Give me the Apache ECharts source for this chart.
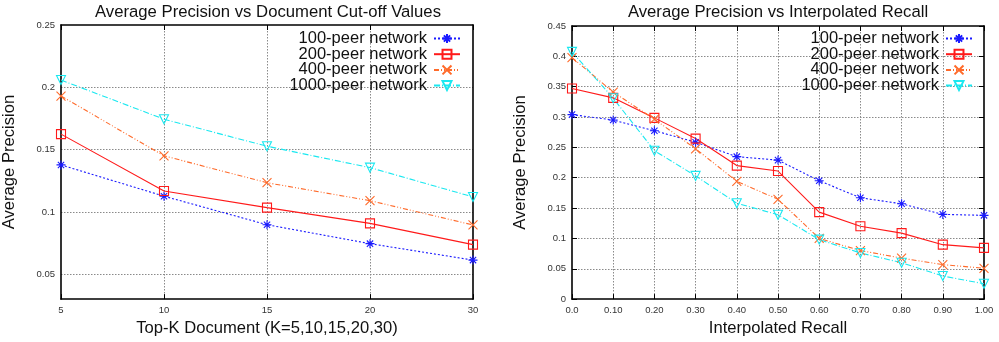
<!DOCTYPE html>
<html><head><meta charset="utf-8">
<script src="https://cdn.jsdelivr.net/npm/echarts@6/dist/echarts.min.js"></script>
<style>html,body{margin:0;padding:0;background:#fff}#c{width:999px;height:342px}</style>
</head><body><div id="c"></div>
<script>
const seriesNames = ['100-peer network','200-peer network','400-peer network','1000-peer network'];
const leftCategories = ['5','10','15','20','30'];
const left100 = [0.1377,0.1126,0.0897,0.0745,0.0613];
const left200 = [0.1624,0.1168,0.1034,0.0908,0.0737];
const left400 = [0.1930,0.1450,0.1234,0.1090,0.0895];
const left1000 = [0.2058,0.1744,0.1527,0.1355,0.1120];
const recall = [0,0.1,0.2,0.3,0.4,0.5,0.6,0.7,0.8,0.9,1.0];
const right100 = [0.304,0.295,0.2775,0.2585,0.2347,0.229,0.195,0.167,0.157,0.1396,0.138];
const right200 = [0.347,0.3316,0.2986,0.2645,0.220,0.211,0.1433,0.120,0.1087,0.0897,0.0844];
const right400 = [0.398,0.341,0.2964,0.2477,0.194,0.1645,0.100,0.080,0.0675,0.0568,0.0508];
const right1000 = [0.4074,0.331,0.2445,0.203,0.158,0.139,0.098,0.076,0.060,0.038,0.0253];
const leftTitle = 'Average Precision vs Document Cut-off Values';
const rightTitle = 'Average Precision vs Interpolated Recall';

const FONT = 'Liberation Sans, Arial, Helvetica, sans-serif';
const colors = ['#1a1aff','#ff1a1a','#ff6a2a','#1ae8f0'];
const symbols = [
  'path://M5 0L5 10M0 5L10 5M1.5 1.5L8.5 8.5M8.5 1.5L1.5 8.5',
  'path://M0 0L10 0L10 10L0 10Z',
  'path://M0 0L10 10M10 0L0 10',
  'path://M0 0L10 0L5 8.7Z'
];
const dashes = [[2,2],'solid',[5,2,1,2,1,2],[6,2,1,2]];

function mkSeries(name, idx, data, xi, yi) {
  return {
    name: name, type: 'line', xAxisIndex: xi, yAxisIndex: yi, data: data,
    symbol: symbols[idx], symbolSize: 9, showSymbol: true,
    itemStyle: {color: 'transparent', borderColor: colors[idx], borderWidth: 1.1},
    lineStyle: {color: colors[idx], width: 1.1, type: dashes[idx]},
    emphasis: {disabled: true}, animation: false, z: 3
  };
}
const lblStyle = {fontFamily: FONT, fontSize: 9.5, color: '#333'};
const splitStyle = {show: true, showMinLine: false, showMaxLine: false, lineStyle: {color: '#8a8a8a', type: [1.5,1.5], width: 1}};
const nameStyle = {fontFamily: FONT, fontSize: 16.6, color: '#111'};
const frameLine = {show: true, onZero: false, lineStyle: {color: '#000', width: 1.6}};
const tick = {inside: true, length: 5, lineStyle: {color: '#000'}};

function legendAt(right) {
  return {data: seriesNames.map(n => ({name: n})), orient: 'vertical', align: 'right', right: right, top: 30, padding: 0,
    itemGap: -1.3, itemWidth: 26, itemHeight: 11.2,
    textStyle: {fontFamily: FONT, fontSize: 16.5, color: '#111', padding: [0, 2, 0, 0]},
    selectedMode: false};
}

const option = {
  animation: false,
  graphic: [
    {type: 'text', x: 268, y: 12, style: {text: leftTitle, font: '16.7px ' + FONT, fill: '#111', align: 'center', verticalAlign: 'middle'}},
    {type: 'text', x: 778, y: 12, style: {text: rightTitle, font: '16.7px ' + FONT, fill: '#111', align: 'center', verticalAlign: 'middle'}}
  ],
  grid: [
    {left: 61, right: 526, top: 25, bottom: 39},
    {left: 572, right: 15, top: 26, bottom: 39}
  ],
  legend: [legendAt(538), legendAt(26)],
  xAxis: [
    {gridIndex: 0, type: 'category', data: leftCategories, boundaryGap: false,
     axisLine: frameLine, axisTick: tick,
     axisLabel: Object.assign({margin: 6}, lblStyle), splitLine: splitStyle,
     name: 'Top-K Document (K=5,10,15,20,30)', nameLocation: 'middle', nameGap: 15, nameTextStyle: nameStyle},
    {gridIndex: 0, type: 'category', data: leftCategories, boundaryGap: false, position: 'top',
     axisLine: frameLine, axisTick: tick,
     axisLabel: {show: false}, splitLine: {show: false}},
    {gridIndex: 1, type: 'value', min: 0, max: 1, interval: 0.1,
     axisLine: frameLine, axisTick: tick,
     axisLabel: Object.assign({margin: 6, formatter: v => v === 0 ? '0.0' : v.toFixed(2)}, lblStyle), splitLine: splitStyle,
     name: 'Interpolated Recall', nameLocation: 'middle', nameGap: 15, nameTextStyle: nameStyle},
    {gridIndex: 1, type: 'value', min: 0, max: 1, interval: 0.1, position: 'top',
     axisLine: frameLine, axisTick: tick,
     axisLabel: {show: false}, splitLine: {show: false}}
  ],
  yAxis: [
    {gridIndex: 0, type: 'value', min: 0.03, max: 0.25, splitNumber: 5,
     axisLine: frameLine, axisTick: tick,
     axisLabel: Object.assign({margin: 6, formatter: v => v < 0.04 ? '' : String(+v.toFixed(2))}, lblStyle), splitLine: splitStyle,
     name: 'Average Precision', nameLocation: 'middle', nameGap: 43, nameTextStyle: nameStyle},
    {gridIndex: 0, type: 'value', min: 0.03, max: 0.25, splitNumber: 5, position: 'right',
     axisLine: frameLine, axisTick: tick,
     axisLabel: {show: false}, splitLine: {show: false}},
    {gridIndex: 1, type: 'value', min: 0, max: 0.45, interval: 0.05,
     axisLine: frameLine, axisTick: tick,
     axisLabel: Object.assign({margin: 6, formatter: v => String(+v.toFixed(2))}, lblStyle), splitLine: splitStyle,
     name: 'Average Precision', nameLocation: 'middle', nameGap: 43, nameTextStyle: nameStyle},
    {gridIndex: 1, type: 'value', min: 0, max: 0.45, interval: 0.05, position: 'right',
     axisLine: frameLine, axisTick: tick,
     axisLabel: {show: false}, splitLine: {show: false}}
  ],
  series: [
    mkSeries(seriesNames[0], 0, left100, 0, 0),
    mkSeries(seriesNames[1], 1, left200, 0, 0),
    mkSeries(seriesNames[2], 2, left400, 0, 0),
    mkSeries(seriesNames[3], 3, left1000, 0, 0),
    mkSeries(seriesNames[0], 0, recall.map((r, i) => [r, right100[i]]), 2, 2),
    mkSeries(seriesNames[1], 1, recall.map((r, i) => [r, right200[i]]), 2, 2),
    mkSeries(seriesNames[2], 2, recall.map((r, i) => [r, right400[i]]), 2, 2),
    mkSeries(seriesNames[3], 3, recall.map((r, i) => [r, right1000[i]]), 2, 2)
  ]
};
const chart = echarts.init(document.getElementById('c'), null, {renderer: 'canvas'});
chart.setOption(option);
</script></body></html>
